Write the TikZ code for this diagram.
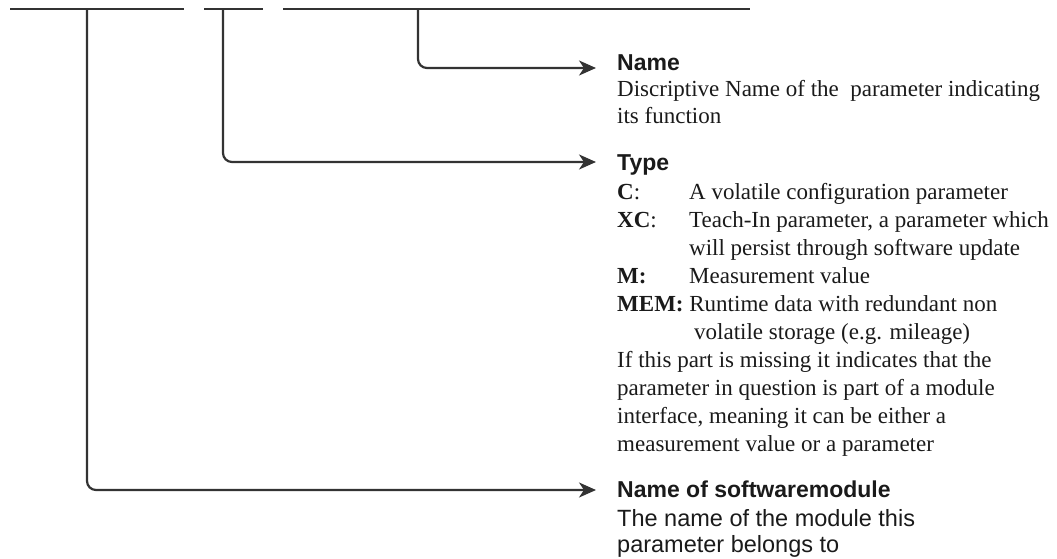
\documentclass[tikz,border=0pt]{standalone}
\usepackage{fontspec}
\setmainfont{Liberation Serif}
\setsansfont{Liberation Sans}
\usetikzlibrary{arrows.meta}
\definecolor{lc}{HTML}{333333}
\definecolor{tc}{HTML}{1A1A1A}
\begin{document}
\begin{tikzpicture}[x=1pt,y=-1pt,
  line/.style={draw=lc, line width=2pt},
  conn/.style={draw=lc, line width=2.2pt, rounded corners=9pt, -{Stealth[length=17pt,width=15pt,inset=5pt]}},
  head/.style={anchor=base west, inner sep=0pt, text=tc, font=\fontsize{23}{28}\sffamily\bfseries},
  body/.style={anchor=base west, inner sep=0pt, text=tc, font=\fontsize{23}{28}\rmfamily},
  sbody/.style={anchor=base west, inner sep=0pt, text=tc, font=\fontsize{23.5}{28}\sffamily}]
\useasboundingbox (0,0) rectangle (1057,559);
% top segments
\coordinate (s1a) at (10,9);  \coordinate (s1b) at (184,9);
\coordinate (s2a) at (204,9); \coordinate (s2b) at (263,9);
\coordinate (s3a) at (283,9); \coordinate (s3b) at (750,9);
\coordinate (b1) at (87,9); \coordinate (b2) at (223,9); \coordinate (b3) at (418,9);
\draw[line] (s1a) -- (s1b);
\draw[line] (s2a) -- (s2b);
\draw[line] (s3a) -- (s3b);
% arrow ends
\coordinate (e3) at (596,68);
\coordinate (e2) at (596,162);
\coordinate (e1) at (596,490);
\draw[conn] (b3) |- (e3);
\draw[conn] (b2) |- (e2);
\draw[conn] (b1) |- (e1);
% Name block
\node[head] (hName) at (617,71) {Name};
\node[body] (n1) at (617,97) {Discriptive Name of the\ \ parameter indicating};
\node[body] (n2) at (617,124) {its function};
% Type block
\node[head] (hType) at (617,170) {Type};
\node[body] (t1) at (617,199) {\makebox[72pt][l]{\textbf{C}:}A volatile configuration parameter};
\node[body] (t2) at (617,227) {\makebox[72pt][l]{\textbf{XC}:}Teach-In parameter, a parameter which};
\node[body] (t3) at (689,255) {will persist through software update};
\node[body] (t4) at (617,283) {\makebox[72pt][l]{\textbf{M:}}Measurement value};
\node[body] (t5) at (617,311) {\textbf{MEM:} Runtime data with redundant non};
\node[body] (t6) at (694,339) {volatile storage (e.g. mileage)};
\node[body] (t7) at (617,367) {If this part is missing it indicates that the};
\node[body] (t8) at (617,395) {parameter in question is part of a module};
\node[body] (t9) at (617,423) {interface, meaning it can be either a};
\node[body] (t10) at (617,451) {measurement value or a parameter};
% software module block
\node[head] (hSoft) at (617,497) {Name of softwaremodule};
\node[sbody] (m1) at (617,526) {The name of the module this};
\node[sbody] (m2) at (617,552) {parameter belongs to};
\end{tikzpicture}
\end{document}
